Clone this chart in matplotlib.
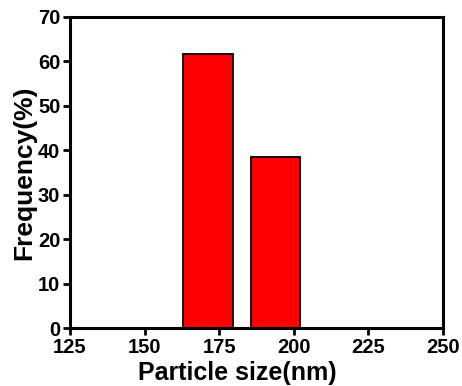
import matplotlib
matplotlib.use("Agg")
import matplotlib.pyplot as plt

# bar edges (particle size, nm) and frequency (%)
bin_left = [163.0, 185.5]
bin_right = [179.5, 202.0]
frequency = [61.5, 38.5]
x_ticks = [125, 150, 175, 200, 225, 250]
y_ticks = [0, 10, 20, 30, 40, 50, 60, 70]

plt.rcParams['font.family'] = ['Liberation Sans', 'DejaVu Sans']
plt.rcParams['font.weight'] = 'bold'

fig = plt.figure(figsize=(4.62, 3.86), dpi=100)
ax = fig.add_axes([0.1515, 0.1495, 0.8075, 0.8075])

widths = [r - l for l, r in zip(bin_left, bin_right)]
ax.bar(bin_left, frequency, width=widths, align='edge',
       color='#ff0000', edgecolor='black', linewidth=1.3)

ax.set_xlim(125, 250)
ax.set_ylim(0, 70)
ax.set_xticks(x_ticks)
ax.set_yticks(y_ticks)
ax.tick_params(direction='out', length=5, width=2, labelsize=14.5, pad=2)
for lab in ax.get_xticklabels() + ax.get_yticklabels():
    lab.set_fontweight('bold')
for s in ax.spines.values():
    s.set_linewidth(2.2)

ax.set_xlabel('Particle size(nm)', fontsize=18, fontweight='bold')
ax.xaxis.set_label_coords(0.448, -0.105, transform=ax.transAxes)
ax.xaxis.label.set_va('top')
ax.set_ylabel('Frequency(%)', fontsize=19, fontweight='bold', labelpad=1)

fig.savefig('out.png', dpi=100)
plt.close()
